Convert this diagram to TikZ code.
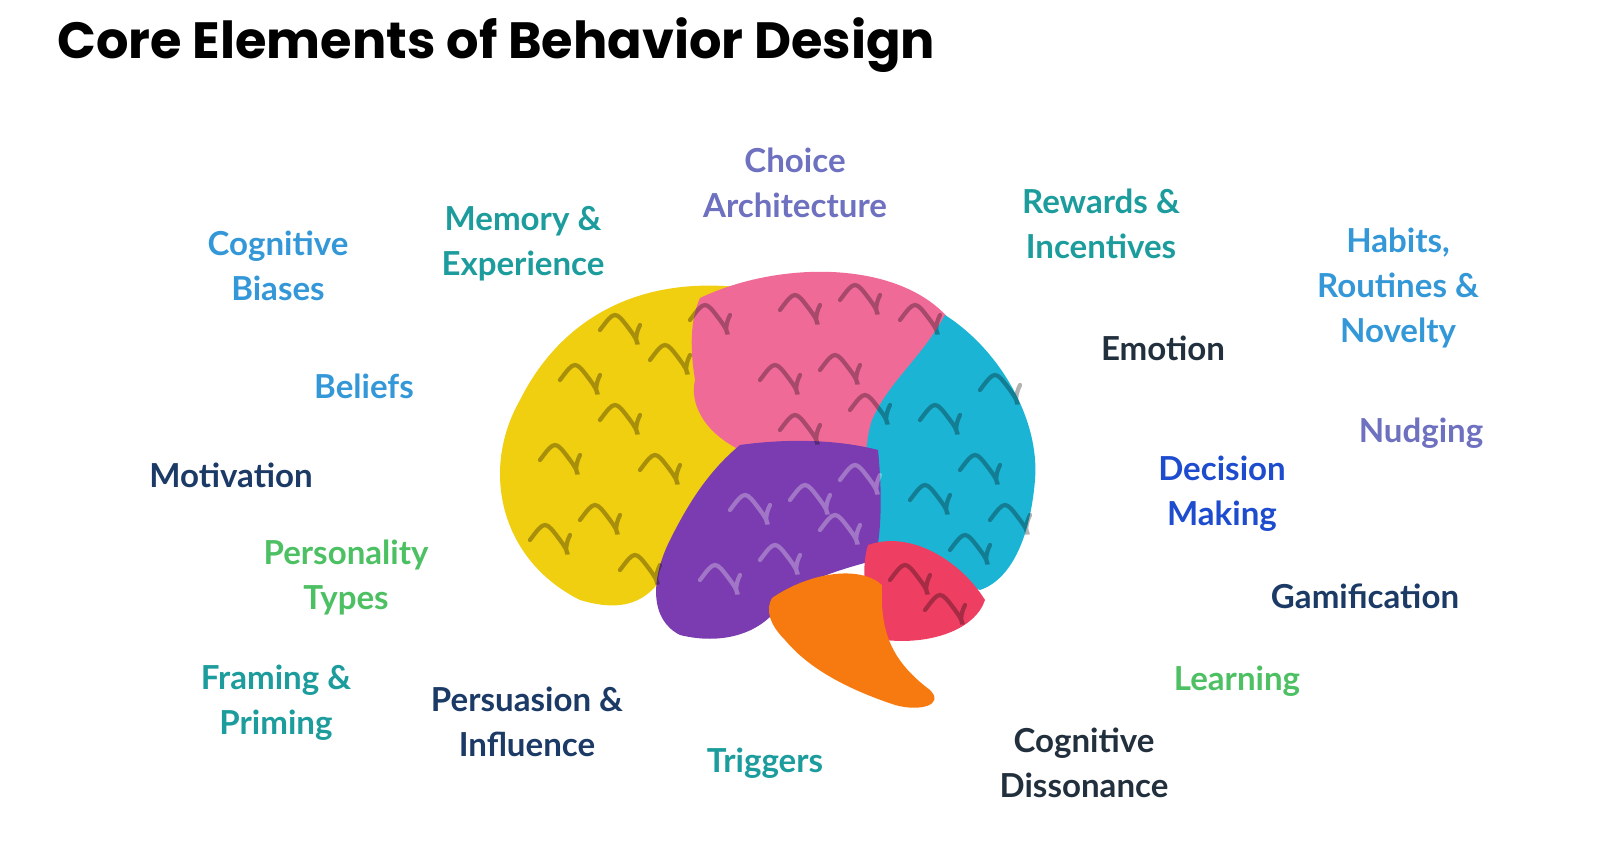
\documentclass[tikz,border=0pt]{standalone}
\usepackage{fontspec}
\setmainfont{Lato}
\newfontfamily\titlefont{Poppins}
\definecolor{cBlue}{HTML}{3498D8}
\definecolor{cTeal}{HTML}{1C9C9C}
\definecolor{cViolet}{HTML}{6E70C0}
\definecolor{cNavy}{HTML}{1B3A66}
\definecolor{cDark}{HTML}{22303E}
\definecolor{cRoyal}{HTML}{1E4CCF}
\definecolor{cGreen}{HTML}{4CC062}
\definecolor{bYellow}{HTML}{F0CE10}
\definecolor{bPink}{HTML}{F06A98}
\definecolor{bCyan}{HTML}{1CB4D4}
\definecolor{bPurple}{HTML}{7A3CB0}
\definecolor{bRed}{HTML}{EE3E62}
\definecolor{bOrange}{HTML}{F77A10}
\tikzset{
  lbl/.style={font=\bfseries\fontsize{9.4}{12.8}\selectfont, align=center},
  gyrus/.style={line width=1.2pt, line cap=round, opacity=0.3}
}
\begin{document}
\begin{tikzpicture}[x=0.01cm,y=-0.01cm]
\useasboundingbox (0,0) rectangle (1600,858);
\node[anchor=west, font=\titlefont\bfseries\fontsize{14.5}{16}\selectfont] (title) at (45,45) {Core Elements of Behavior Design};
% brain lobes
\fill[bYellow] (760,290) .. controls (640,270) and (560,320) .. (520,400)
  .. controls (480,470) and (500,560) .. (580,600) .. controls (630,615) and (660,600) .. (680,540)
  .. controls (700,480) and (740,460) .. (760,440) -- (700,400) .. controls (700,350) and (720,300) .. (760,290) -- cycle;
\fill[bPink] (700,298) .. controls (780,260) and (900,260) .. (950,320)
  .. controls (960,340) and (930,360) .. (900,380) .. controls (880,400) and (880,440) .. (870,460)
  .. controls (820,450) and (770,460) .. (740,450) .. controls (700,430) and (690,400) .. (695,380)
  .. controls (690,350) and (690,320) .. (700,298) -- cycle;
\fill[bCyan] (945,315) .. controls (1000,350) and (1040,420) .. (1035,480)
  .. controls (1030,540) and (1010,580) .. (980,590) .. controls (950,580) and (920,560) .. (875,545)
  .. controls (865,500) and (862,450) .. (872,420) .. controls (890,380) and (920,360) .. (945,315) -- cycle;
\fill[bPurple] (740,445) .. controls (790,438) and (840,440) .. (878,450)
  .. controls (882,490) and (882,530) .. (875,560) .. controls (840,570) and (800,580) .. (780,605)
  .. controls (760,635) and (720,645) .. (680,635) .. controls (650,620) and (650,580) .. (670,540)
  .. controls (690,500) and (710,470) .. (740,445) -- cycle;
\fill[bRed] (868,545) .. controls (910,530) and (960,560) .. (985,600)
  .. controls (975,630) and (930,645) .. (885,640) .. controls (865,610) and (860,570) .. (868,545) -- cycle;
\fill[bOrange] (772,598) .. controls (810,572) and (860,565) .. (882,585)
  .. controls (880,630) and (890,660) .. (930,690) .. controls (945,705) and (920,712) .. (895,705)
  .. controls (850,690) and (810,670) .. (785,640) .. controls (770,625) and (765,610) .. (772,598) -- cycle;
% gyri
\foreach \x/\y/\c in {560/380/black,600/330/black,540/460/black,600/420/black,650/360/black,
  580/520/black,640/470/black,530/540/black,620/570/black,690/320/black,
  780/310/black,840/300/black,900/320/black,760/380/black,820/370/black,
  780/430/black,850/410/black,920/420/black,980/390/black,960/470/black,
  990/520/black,910/500/black,950/550/black,730/510/white,790/500/white,
  840/480/white,700/580/white,760/560/white,820/530/white,890/580/black,925/610/black}
  \draw[gyrus,\c] (\x,\y) .. controls +(15,-20) and +(-15,-20) .. +(30,0)
    .. controls +(15,20) and +(-10,20) .. +(40,-5);
% labels
\node[lbl, text=cBlue] (biases) at (278,266) {Cognitive\\Biases};
\node[lbl, text=cTeal] (memory) at (523,244) {Memory \&\\Experience};
\node[lbl, text=cViolet] (choice) at (795,183) {Choice\\Architecture};
\node[lbl, text=cTeal] (rewards) at (1101,224) {Rewards \&\\Incentives};
\node[lbl, text=cBlue] (habits) at (1398,288) {Habits,\\Routines \&\\Novelty};
\node[lbl, text=cDark] (emotion) at (1163,348) {Emotion};
\node[lbl, text=cBlue] (beliefs) at (364,386) {Beliefs};
\node[lbl, text=cViolet] (nudging) at (1421,433) {Nudging};
\node[lbl, text=cNavy] (motivation) at (231,475) {Motivation};
\node[lbl, text=cRoyal] (decision) at (1222,494) {Decision\\Making};
\node[lbl, text=cGreen] (personality) at (346,577) {Personality\\Types};
\node[lbl, text=cNavy] (gamification) at (1365,596) {Gamification};
\node[lbl, text=cTeal] (framing) at (276,703) {Framing \&\\Priming};
\node[lbl, text=cNavy] (persuasion) at (527,722) {Persuasion \&\\Influence};
\node[lbl, text=cGreen] (learning) at (1237,681) {Learning};
\node[lbl, text=cTeal] (triggers) at (765,763) {Triggers};
\node[lbl, text=cDark] (dissonance) at (1084,763) {Cognitive\\Dissonance};
\end{tikzpicture}
\end{document}
